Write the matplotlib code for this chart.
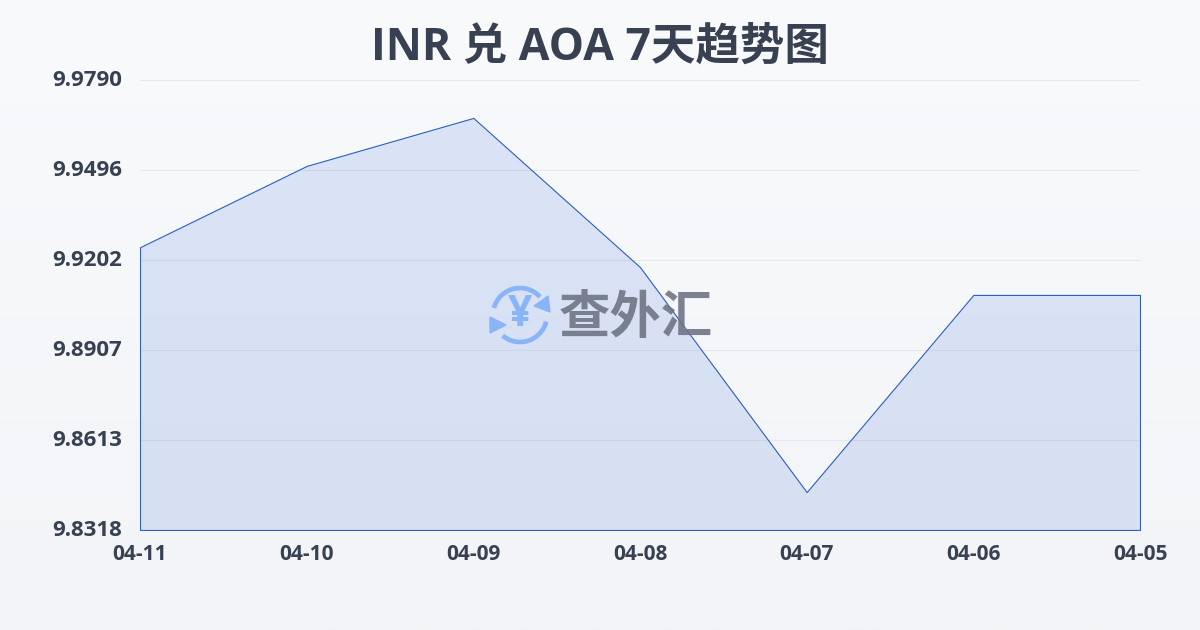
import numpy as np
import matplotlib.pyplot as plt
from matplotlib.patches import Arc, Polygon
from matplotlib.transforms import ScaledTranslation

plt.rcParams['font.family'] = ['Open Sans', 'Noto Sans CJK SC', 'DejaVu Sans']

dates = ['04-11', '04-10', '04-09', '04-08', '04-07', '04-06', '04-05']
rates = [9.9243, 9.9509, 9.9666, 9.9178, 9.8442, 9.9087, 9.9087]
y_ticks = [9.8318, 9.8613, 9.8907, 9.9202, 9.9496, 9.9790]

W, H = 1200, 630
fig = plt.figure(figsize=(W / 100, H / 100), dpi=100)

# background gradient
bg = fig.add_axes([0, 0, 1, 1], zorder=0)
grad = np.linspace(0, 1, 256).reshape(-1, 1)
top = np.array([0xf9, 0xfa, 0xfc]) / 255
bottom = np.array([0xf2, 0xf4, 0xf7]) / 255
bg.imshow((top + (bottom - top) * grad[..., None]), aspect='auto', extent=[0, 1, 0, 1])
bg.axis('off')

# plot area
ax = fig.add_axes([140 / W, 1 - 530 / H, 1000 / W, 450 / H], zorder=1)
ax.patch.set_alpha(0)
x = np.arange(len(dates))
ax.fill_between(x, rates, y_ticks[0], facecolor=(0.13, 0.36, 0.85, 0.135),
                edgecolor='#2a5fbe', linewidth=0.8, zorder=3)
ax.set_xlim(0, len(dates) - 1)
ax.set_ylim(y_ticks[0], y_ticks[-1])
ax.set_xticks(x)
ax.set_xticklabels(dates, fontsize=15, fontweight='bold', color='#374151')
ax.set_yticks(y_ticks)
ax.set_yticklabels(['%.4f' % v for v in y_ticks], fontsize=16, fontweight='bold', color='#374151',
                   va='center_baseline')
ax.tick_params(axis='y', length=0, pad=13)
ax.tick_params(axis='x', length=0, pad=10)
# y labels sit 2px above their gridlines
shift = ScaledTranslation(0, 2 / 100, fig.dpi_scale_trans)
for lab in ax.get_yticklabels():
    lab.set_transform(lab.get_transform() + shift)
ax.grid(axis='y', color='#e5e7eb', linewidth=0.8, zorder=1)
ax.set_axisbelow(True)
for s in ax.spines.values():
    s.set_visible(False)

fig.text(0.5, 1 - 48 / H, 'INR 兑 AOA 7天趋势图', ha='center', va='center',
         fontsize=32, fontweight='bold', color='#374151')

# watermark logo, in pixel coordinates
ov = fig.add_axes([0, 0, 1, 1], zorder=2)
ov.set_xlim(0, W)
ov.set_ylim(H, 0)
ov.axis('off')
blue = '#8ab4f8'
# y axis points down here, so the arc angles run clockwise on screen
ov.add_patch(Arc((520, 315), 54, 54, theta1=195, theta2=318, color=blue, lw=3.4))
ov.add_patch(Arc((520, 315), 54, 54, theta1=14, theta2=130, color=blue, lw=3.4))
ov.add_patch(Polygon([(548, 296), (550, 312), (534, 306)], color=blue))
ov.add_patch(Polygon([(490, 317), (490, 333), (506, 325)], color=blue))
ov.text(520, 315, '¥', ha='center', va='center', fontsize=31, fontweight='bold', color=blue)
ov.text(636, 320, '查外汇', ha='center', va='center', fontsize=37, fontweight='bold',
        color='#6b7280', alpha=0.88)

fig.savefig('out.png', dpi=100)
